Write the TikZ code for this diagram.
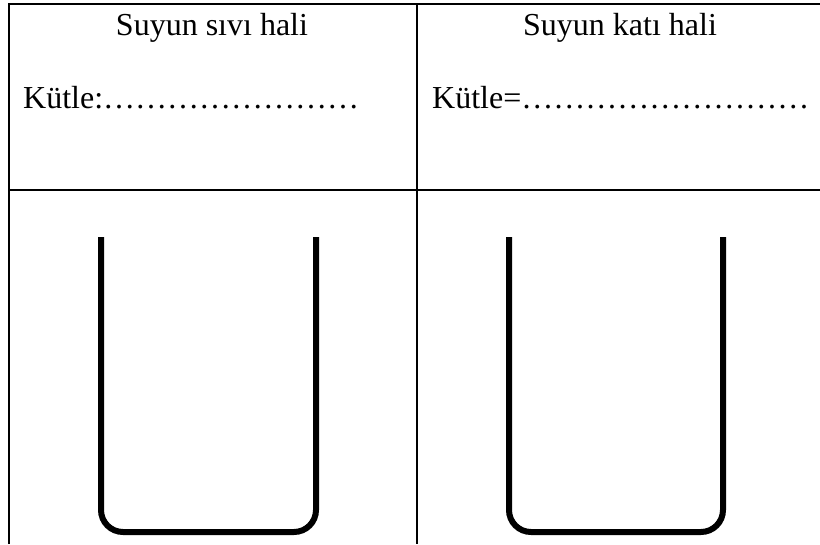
\documentclass[tikz,border=0pt]{standalone}
\usepackage{fontspec}
\setmainfont{Liberation Serif}
\begin{document}
\begin{tikzpicture}[x=1pt,y=-1pt,
  grid/.style={line width=2pt,black},
  cup/.style={line width=6pt,black,rounded corners=22pt},
  lbl/.style={font=\fontsize{32}{38}\selectfont,inner sep=0pt,anchor=base}]
\useasboundingbox (0,0) rectangle (820,544);
% table lines
\draw[grid] (9,544) -- (9,4) -- (820,4);
\draw[grid] (8,190) -- (820,190);
\draw[grid] (417,4) -- (417,544);
% texts
\node[lbl] (t1) at (212,35) {Suyun sıvı hali};
\node[lbl] (t2) at (620,35) {Suyun katı hali};
\node[lbl,anchor=base west] (k1) at (23,108) {Kütle:……………………};
\node[lbl,anchor=base west] (k2) at (432,108) {Kütle=………………………};
% cups
\draw[cup] (101,237) -- (101,532) -- (316,532) -- (316,237);
\draw[cup] (509,237) -- (509,532) -- (723,532) -- (723,237);
\end{tikzpicture}
\end{document}
